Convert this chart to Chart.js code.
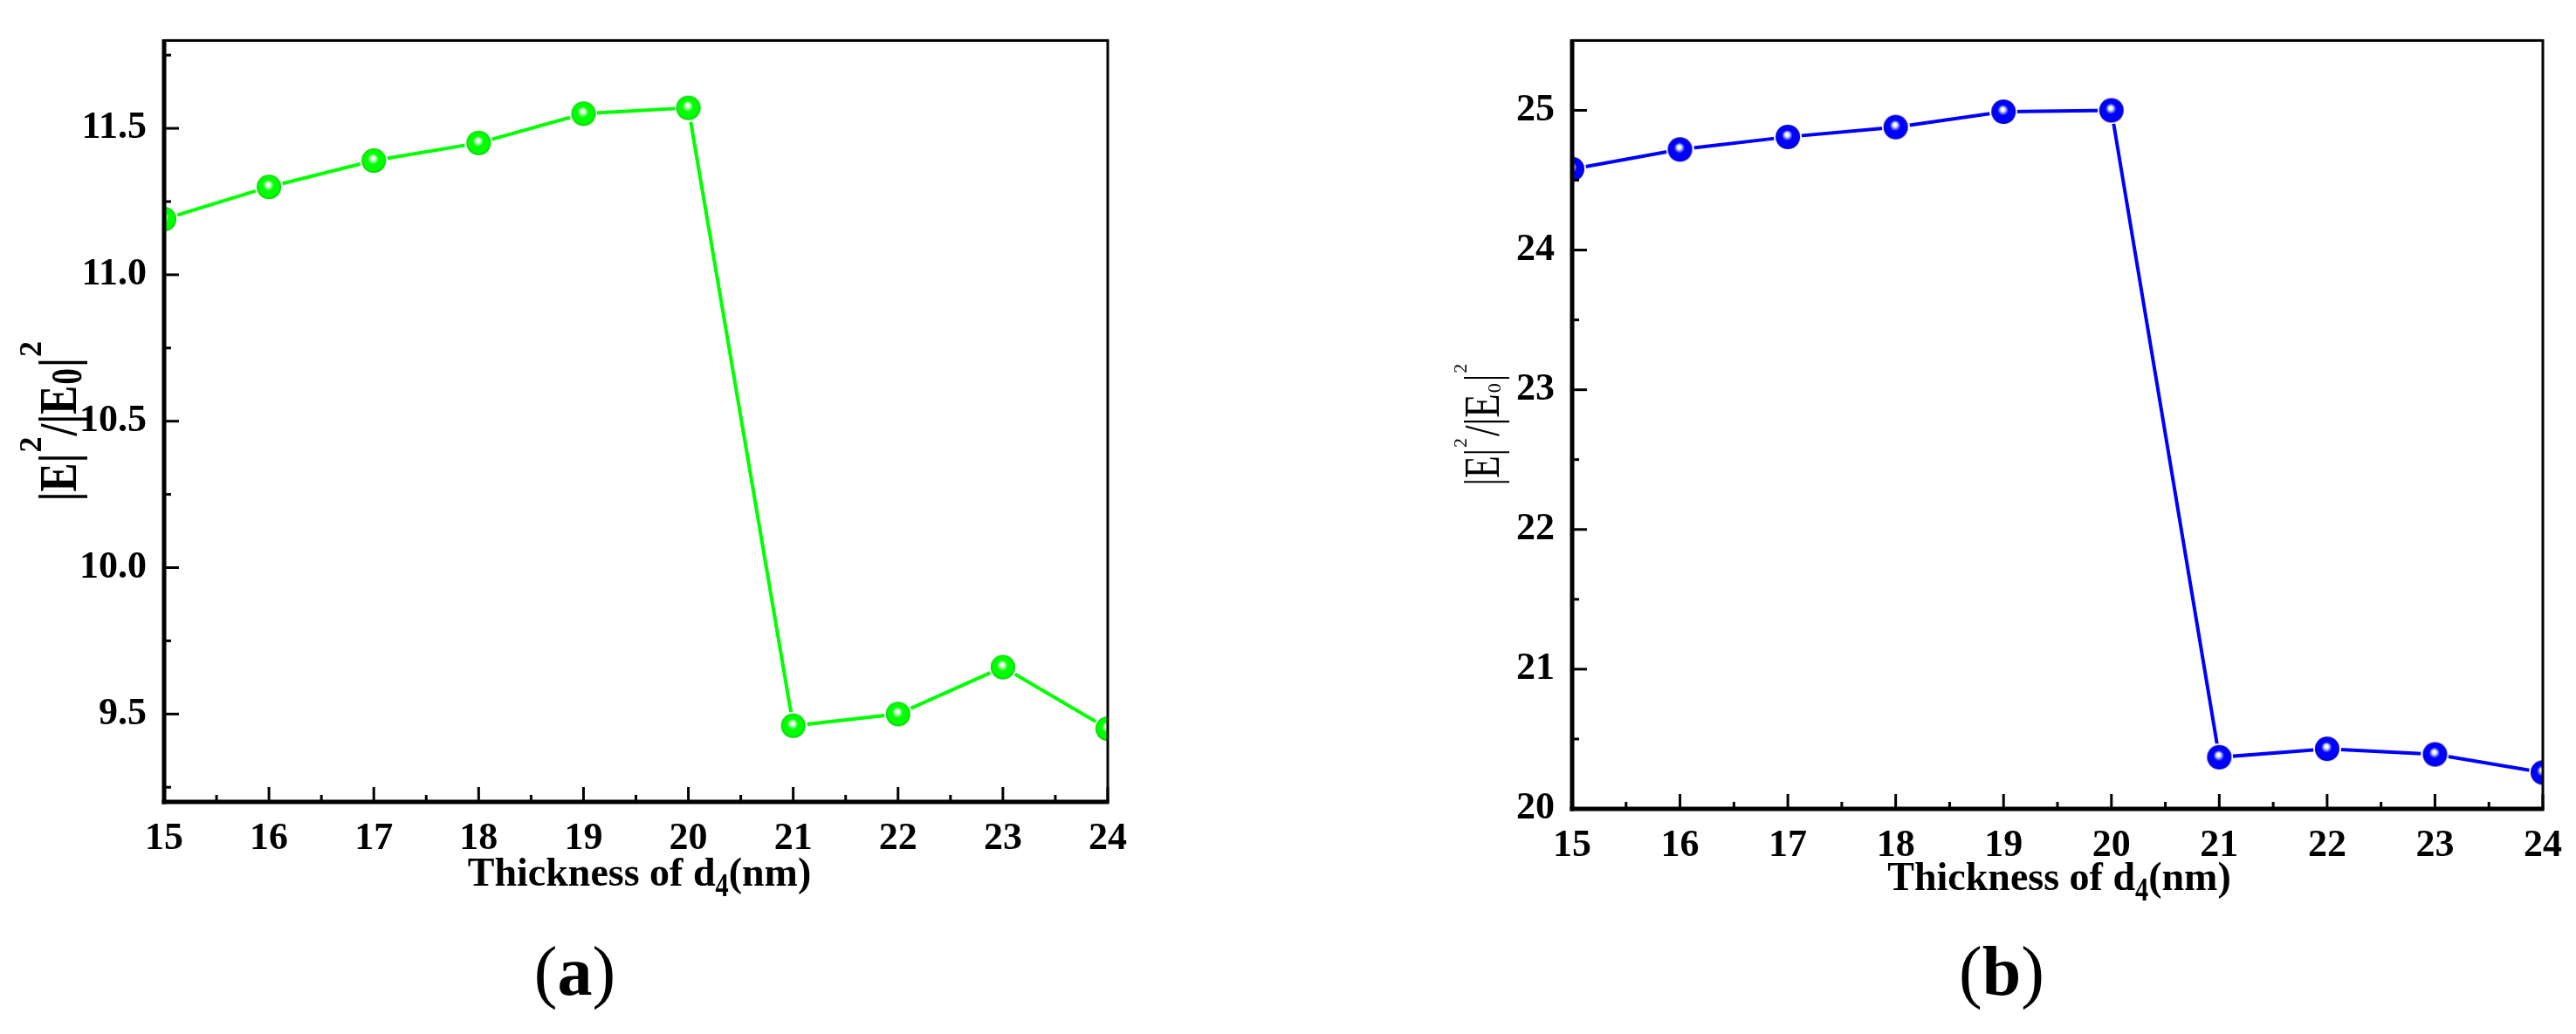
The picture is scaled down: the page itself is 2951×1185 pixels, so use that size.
<!DOCTYPE html>
<html lang="en">
<head>
<meta charset="UTF-8">
<title>|E|²/|E0|² versus thickness of d4</title>
<script src="https://cdn.jsdelivr.net/npm/chart.js@4.4.1/dist/chart.umd.min.js"></script>
<style>
  html, body { margin: 0; padding: 0; background: #fff; }
  body { width: 2951px; height: 1185px; position: relative; overflow: hidden; }
  .panel { position: absolute; top: 0; height: 1185px; }
  #panelA { left: 0; width: 1480px; }
  #panelB { left: 1480px; width: 1471px; }
</style>
</head>
<body>
<div class="panel" id="panelA"><canvas id="chartA"></canvas></div>
<div class="panel" id="panelB"><canvas id="chartB"></canvas></div>

<script>
// data
const thickness = [15, 16, 17, 18, 19, 20, 21, 22, 23, 24];
const enhanceA = [11.19, 11.30, 11.39, 11.45, 11.55, 11.57, 9.46, 9.50, 9.66, 9.45];
const enhanceB = [24.58, 24.72, 24.81, 24.88, 24.99, 25.00, 20.37, 20.43, 20.39, 20.26];

const xTicks = [15, 16, 17, 18, 19, 20, 21, 22, 23, 24];
const xMinor = [15.5, 16.5, 17.5, 18.5, 19.5, 20.5, 21.5, 22.5, 23.5];
const yTicksA = [9.5, 10.0, 10.5, 11.0, 11.5];
const yMinorA = [9.25, 9.75, 10.25, 10.75, 11.25, 11.75];
const yTicksB = [20, 21, 22, 23, 24, 25];
const yMinorB = [20.5, 21.5, 22.5, 23.5, 24.5];

const SERIF = "'Liberation Serif', 'Times New Roman', Times, serif";
Chart.defaults.font.family = SERIF;
Chart.defaults.color = '#000';

// shaded ball used as point style
function ball(mid, dark) {
    const r = 14, o = r + 2;
    const c = document.createElement('canvas');
    c.width = c.height = 2 * o;
    const g = c.getContext('2d');
    g.fillStyle = '#fff';
    g.beginPath(); g.arc(o, o, r + 2, 0, Math.PI * 2); g.fill();
    const grad = g.createRadialGradient(o - 1, o - 3, 0.5, o, o, r);
    grad.addColorStop(0, '#ffffff');
    grad.addColorStop(0.12, '#f0fff0');
    grad.addColorStop(0.42, mid);
    grad.addColorStop(0.85, mid);
    grad.addColorStop(1, dark);
    g.fillStyle = grad;
    g.beginPath(); g.arc(o, o, r, 0, Math.PI * 2); g.fill();
    return c;
}

// text made of pieces (super/subscripts), centred on x
function drawRich(ctx, parts, x, y) {
    const widths = parts.map(p => {
        ctx.font = `${p.weight || 'bold'} ${p.size}px ${SERIF}`;
        return ctx.measureText(p.t).width * (p.sx || 1);
    });
    const total = widths.reduce((s, w, i) => s + w + (parts[i].gap || 0), 0);
    let cx = x - total / 2;
    parts.forEach((p, i) => {
        ctx.save();
        ctx.font = `${p.weight || 'bold'} ${p.size}px ${SERIF}`;
        ctx.translate(cx, y + (p.dy || 0));
        ctx.scale(p.sx || 1, 1);
        ctx.fillText(p.t, 0, 0);
        ctx.restore();
        cx += widths[i] + (p.gap || 0);
    });
}

const xTitle = [
    {t: 'Thickness of d', size: 46},
    {t: '4', size: 38, dy: 12, sx: 0.8},
    {t: '(nm)', size: 46}
];

// inward ticks, frame, axis titles and panel letter
const frame = {
    id: 'frame',
    afterDatasetsDraw(chart, args, o) {
        const {ctx, chartArea: a, scales: {x, y}} = chart;
        ctx.save();
        ctx.strokeStyle = '#000';
        ctx.fillStyle = '#000';
        const seg = (x1, y1, x2, y2) => { ctx.beginPath(); ctx.moveTo(x1, y1); ctx.lineTo(x2, y2); ctx.stroke(); };
        ctx.lineWidth = 3;
        xTicks.forEach(v => { const px = x.getPixelForValue(v); seg(px, a.bottom, px, a.bottom - 17); });
        xMinor.forEach(v => { const px = x.getPixelForValue(v); seg(px, a.bottom, px, a.bottom - 8); });
        o.yMajor.forEach(v => { const py = y.getPixelForValue(v); seg(a.left, py, a.left + 17, py); });
        o.yMinor.forEach(v => { const py = y.getPixelForValue(v); seg(a.left, py, a.left + 8, py); });

        ctx.lineWidth = 3;
        ctx.strokeRect(a.left, a.top, a.right - a.left, a.bottom - a.top);
        ctx.lineWidth = 5;
        seg(a.left, a.top - 1.5, a.left, a.bottom + 2.5);
        seg(a.left - 2.5, a.bottom, a.right + 1.5, a.bottom);

        ctx.textAlign = 'left';
        ctx.textBaseline = 'alphabetic';
        const mid = (a.left + a.right) / 2;
        drawRich(ctx, xTitle, mid + o.xTitleShift, a.bottom + o.xTitleDrop);

        ctx.save();
        ctx.translate(a.left - o.yTitleGap, (a.top + a.bottom) / 2);
        ctx.rotate(-Math.PI / 2);
        drawRich(ctx, o.yTitle, 0, 0);
        ctx.restore();

        drawRich(ctx, [
            {t: '(', size: 80, weight: 'normal'},
            {t: o.letter, size: 80},
            {t: ')', size: 80, weight: 'normal'}
        ], mid + o.letterShift, 1140);
        ctx.restore();
    }
};

function makeChart(id, values, colour, dark, yMin, yMax, yTicks, yMinor, fmt, box, extra) {
    new Chart(document.getElementById(id), {
        type: 'line',
        data: {
            datasets: [{
                data: thickness.map((t, i) => ({x: t, y: values[i]})),
                borderColor: colour,
                borderWidth: 4,
                tension: 0,
                pointStyle: ball(colour, dark),
                pointRadius: 14,
                clip: 0
            }]
        },
        options: {
            responsive: true,
            maintainAspectRatio: false,
            animation: false,
            events: [],
            layout: {padding: box.padding},
            plugins: {
                legend: {display: false},
                tooltip: {enabled: false},
                frame: extra
            },
            scales: {
                x: {
                    type: 'linear',
                    min: 15,
                    max: 24,
                    grid: {display: false, drawTicks: false},
                    border: {display: false},
                    afterBuildTicks: s => { s.ticks = xTicks.map(v => ({value: v})); },
                    afterFit: s => { s.height = 80; },
                    ticks: {
                        padding: 16,
                        font: {size: 44, weight: 'bold'},
                        color: '#000',
                        maxRotation: 0,
                        autoSkip: false,
                        callback: v => String(v)
                    }
                },
                y: {
                    type: 'linear',
                    min: yMin,
                    max: yMax,
                    grid: {display: false, drawTicks: false},
                    border: {display: false},
                    afterBuildTicks: s => { s.ticks = yTicks.map(v => ({value: v})); },
                    afterFit: s => { s.width = box.yWidth; },
                    ticks: {
                        padding: 20,
                        font: {size: 44, weight: 'bold'},
                        color: '#000',
                        autoSkip: false,
                        callback: fmt
                    }
                }
            }
        },
        plugins: [frame]
    });
}

makeChart('chartA', enhanceA, '#00ff00', '#00c000', 9.2, 11.8, yTicksA, yMinorA,
    v => v.toFixed(1),
    {yWidth: 188, padding: {top: 45, right: 211, bottom: 186, left: 0}},
    {
        yMajor: yTicksA, yMinor: yMinorA, letter: 'a',
        xTitleShift: 4, xTitleDrop: 96, yTitleGap: 101, letterShift: -70,
        yTitle: [
            {t: '|E|', size: 62, sx: 0.8, gap: 1},
            {t: '2', size: 36, dy: -40, gap: 1},
            {t: '/|E', size: 62, sx: 0.8, gap: 1},
            {t: '0', size: 50, dy: 6, sx: 0.75, gap: 1},
            {t: '|', size: 62, sx: 0.8, gap: 1},
            {t: '2', size: 36, dy: -40}
        ]
    });

makeChart('chartB', enhanceB, '#0000ff', '#0000b0', 20, 25.5, yTicksB, yMinorB,
    v => String(v),
    {yWidth: 321, padding: {top: 44, right: 36, bottom: 178, left: 0}},
    {
        yMajor: yTicksB, yMinor: yMinorB, letter: 'b',
        xTitleShift: 2, xTitleDrop: 93, yTitleGap: 84, letterShift: -64,
        yTitle: [
            {t: '|E|', size: 56, weight: 'normal', sx: 0.75, gap: 1},
            {t: '2', size: 22, weight: 'normal', dy: -37, gap: 2},
            {t: '/|E', size: 56, weight: 'normal', sx: 0.8, gap: 1},
            {t: '0', size: 22, weight: 'normal', dy: 2, gap: 2},
            {t: '|', size: 56, weight: 'normal', sx: 0.75, gap: 1},
            {t: '2', size: 22, weight: 'normal', dy: -37}
        ]
    });
</script>
</body>
</html>
